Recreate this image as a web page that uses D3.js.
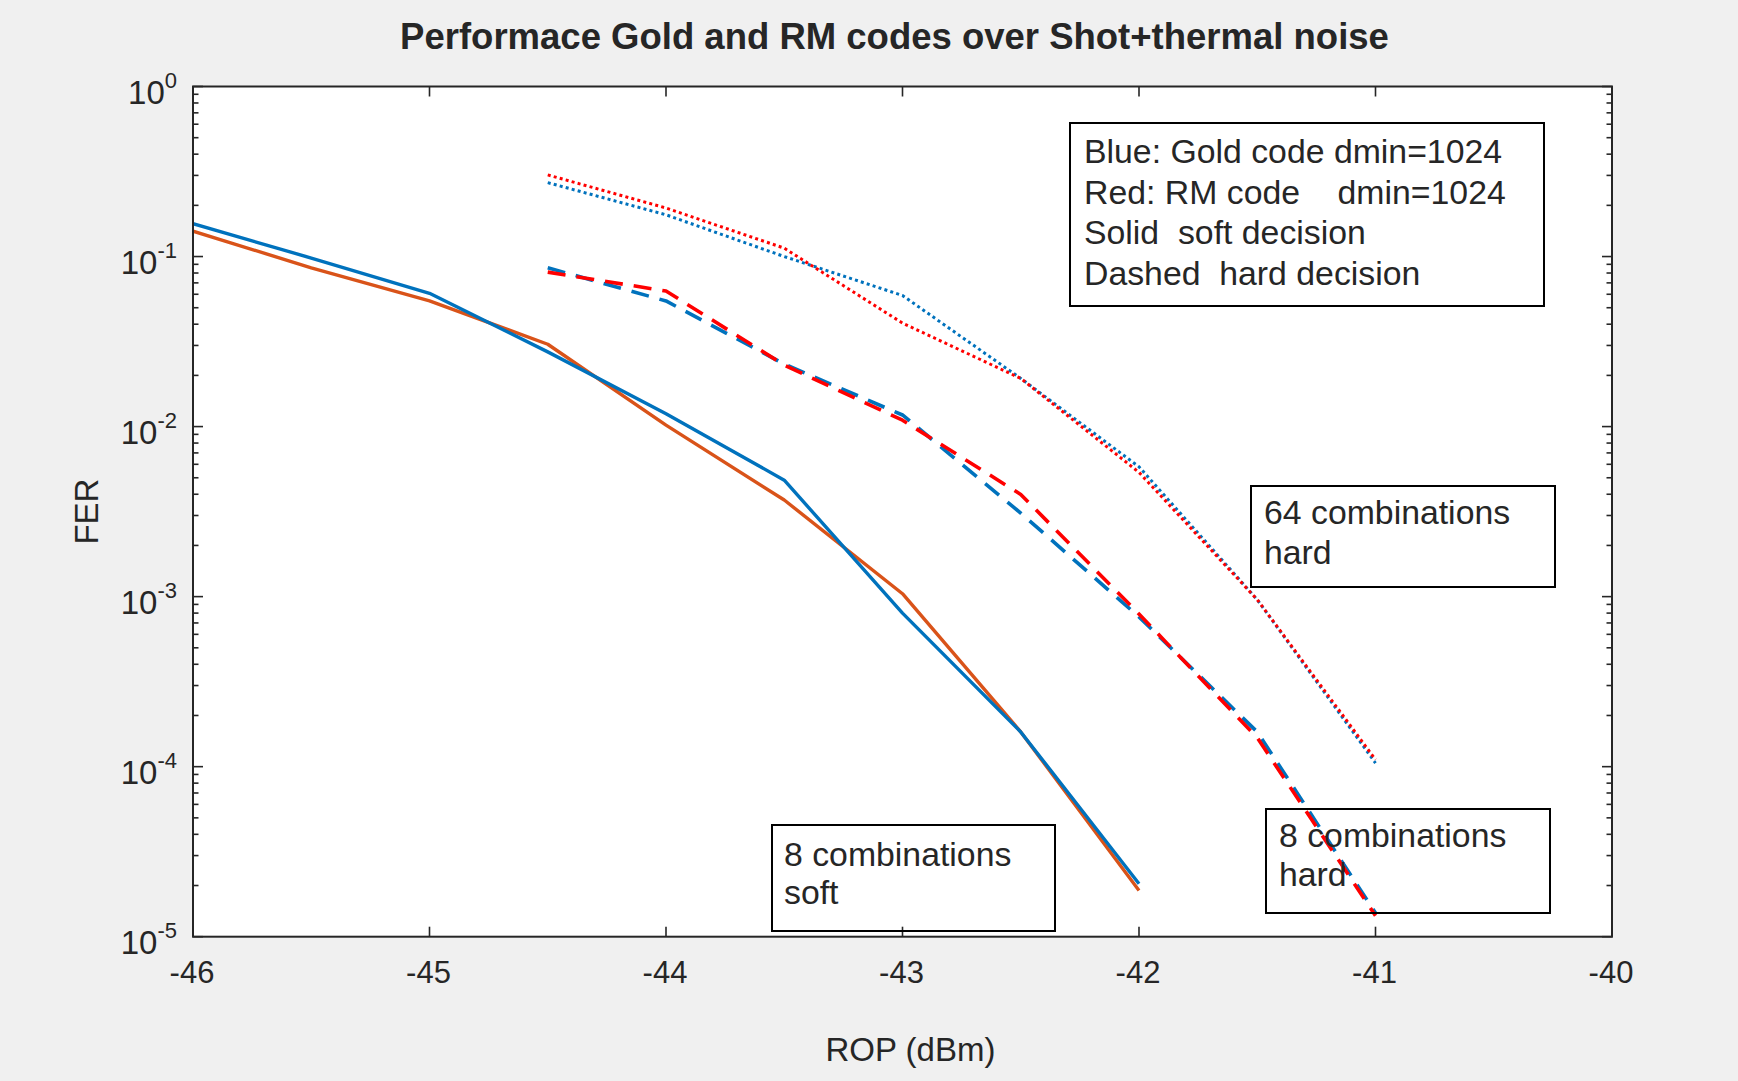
<!DOCTYPE html>
<html>
<head>
<meta charset="utf-8">
<script src="https://cdn.jsdelivr.net/npm/d3@7"></script>
<style>
  html, body { margin: 0; padding: 0; background: #F0F0F0; }
  svg { display: block; }
  text { font-family: "Liberation Sans", Arial, Helvetica, sans-serif; fill: #262626; }
</style>
</head>
<body>
<svg id="chart" width="1738" height="1081"></svg>
<script>
// ---------- data ----------
const titleText = "Performace Gold and RM codes over Shot+thermal noise";
const xLabel = "ROP (dBm)";
const yLabel = "FER";
const xTicks = [-46, -45, -44, -43, -42, -41, -40];
const yTickExps = [0, -1, -2, -3, -4, -5];

const ropSoft = [-46, -45.5, -45, -44.5, -44, -43.5, -43, -42.5, -42];
const goldSoft8 = [0.156, 0.098, 0.0608, 0.0275, 0.0119, 0.00484, 0.00080, 0.000160, 0.0000205];
const rmSoft8 = [0.141, 0.0859, 0.0548, 0.0305, 0.0102, 0.0037, 0.00104, 0.000160, 0.0000187];

const ropHard = [-44.5, -44, -43.5, -43, -42.5, -42, -41.5, -41];
const goldHard8 = [0.0859, 0.0548, 0.0233, 0.0117, 0.0031, 0.00076, 0.000160, 0.0000138];
const rmHard8 = [0.081, 0.0627, 0.023, 0.0109, 0.00399, 0.00079, 0.000148, 0.0000133];
const goldHard64 = [0.272, 0.176, 0.100, 0.059, 0.0192, 0.0058, 0.00096, 0.000105];
const rmHard64 = [0.302, 0.193, 0.112, 0.0406, 0.0192, 0.00538, 0.00096, 0.000110];

const legendLines = ["Blue: Gold code dmin=1024", "Red: RM code    dmin=1024", "Solid  soft decision", "Dashed  hard decision"];
const note64 = ["64 combinations", "hard"];
const note8soft = ["8 combinations", "soft"];
const note8hard = ["8 combinations", "hard"];

// ---------- layout ----------
const W = 1738, H = 1081;
const plot = { left: 193, top: 86.5, right: 1612, bottom: 936.7 };

const svg = d3.select("#chart");
svg.append("rect").attr("width", W).attr("height", H).attr("fill", "#F0F0F0");

const x = d3.scaleLinear().domain([-46, -40]).range([plot.left, plot.right]);
const y = d3.scaleLog().domain([1e-5, 1]).range([plot.bottom, plot.top]);

svg.append("rect")
  .attr("x", plot.left).attr("y", plot.top)
  .attr("width", plot.right - plot.left).attr("height", plot.bottom - plot.top)
  .attr("fill", "#FFFFFF");

const axisColor = "#262626";

// ---------- series ----------
const clipId = "plotclip";
svg.append("clipPath").attr("id", clipId).append("rect")
  .attr("x", plot.left).attr("y", plot.top)
  .attr("width", plot.right - plot.left).attr("height", plot.bottom - plot.top);

const g = svg.append("g").attr("clip-path", `url(#${clipId})`);
const line = d3.line().x(d => x(d[0])).y(d => y(d[1]));

const series = [
  { xs: ropHard, ys: goldHard64, color: "#0072BD", dash: "3,3.2", w: 3 },
  { xs: ropHard, ys: rmHard64, color: "#FF0000", dash: "3,3.2", w: 3 },
  { xs: ropHard, ys: goldHard8, color: "#0072BD", dash: "18,11", w: 3.6 },
  { xs: ropHard, ys: rmHard8, color: "#FF0000", dash: "18,11", w: 3.6 },
  { xs: ropSoft, ys: rmSoft8, color: "#D95319", dash: null, w: 3.4 },
  { xs: ropSoft, ys: goldSoft8, color: "#0072BD", dash: null, w: 3.4 }
];

series.forEach(s => {
  g.append("path")
    .datum(s.xs.map((v, i) => [v, s.ys[i]]))
    .attr("d", line)
    .attr("fill", "none")
    .attr("stroke", s.color)
    .attr("stroke-width", s.w)
    .attr("stroke-linejoin", "round")
    .attr("stroke-dasharray", s.dash);
});

// ---------- axes (box with inward ticks) ----------
const ax = svg.append("g").attr("stroke", axisColor).attr("fill", "none");
ax.append("rect")
  .attr("x", plot.left).attr("y", plot.top)
  .attr("width", plot.right - plot.left).attr("height", plot.bottom - plot.top)
  .attr("stroke-width", 2);

const majorLen = 10, minorLen = 5.5;
xTicks.forEach(t => {
  const px = x(t);
  ax.append("line").attr("x1", px).attr("x2", px).attr("y1", plot.bottom).attr("y2", plot.bottom - majorLen).attr("stroke-width", 1.6);
  ax.append("line").attr("x1", px).attr("x2", px).attr("y1", plot.top).attr("y2", plot.top + majorLen).attr("stroke-width", 1.6);
});
// log ticks
for (let e = -5; e <= 0; e++) {
  const base = Math.pow(10, e);
  const py = y(base);
  ax.append("line").attr("x1", plot.left).attr("x2", plot.left + majorLen).attr("y1", py).attr("y2", py).attr("stroke-width", 1.6);
  ax.append("line").attr("x1", plot.right).attr("x2", plot.right - majorLen).attr("y1", py).attr("y2", py).attr("stroke-width", 1.6);
  if (e < 0) {
    for (let m = 2; m <= 9; m++) {
      const pm = y(base * m);
      ax.append("line").attr("x1", plot.left).attr("x2", plot.left + minorLen).attr("y1", pm).attr("y2", pm).attr("stroke-width", 1.6);
      ax.append("line").attr("x1", plot.right).attr("x2", plot.right - minorLen).attr("y1", pm).attr("y2", pm).attr("stroke-width", 1.6);
    }
  }
}

// tick labels
xTicks.forEach(t => {
  svg.append("text")
    .attr("x", x(t) - 1).attr("y", 983)
    .attr("text-anchor", "middle")
    .attr("font-size", 31)
    .text(String(t));
});
yTickExps.forEach(e => {
  const py = y(Math.pow(10, e));
  const t = svg.append("text")
    .attr("x", 177).attr("y", py + 17)
    .attr("text-anchor", "end")
    .attr("font-size", 33);
  t.append("tspan").text("10");
  t.append("tspan").attr("font-size", 22).attr("dy", -16).text(String(e));
});

// axis labels
svg.append("text")
  .attr("x", (plot.left + plot.right) / 2 + 8).attr("y", 1061)
  .attr("text-anchor", "middle").attr("font-size", 33)
  .text(xLabel);
svg.append("text")
  .attr("transform", `translate(98,${(plot.top + plot.bottom) / 2}) rotate(-90)`)
  .attr("text-anchor", "middle").attr("font-size", 33)
  .text(yLabel);

// title
svg.append("text")
  .attr("x", (plot.left + plot.right) / 2 - 8).attr("y", 49)
  .attr("text-anchor", "middle").attr("font-size", 36.5).attr("font-weight", "bold")
  .attr("fill", "#000")
  .text(titleText);

// ---------- annotation boxes ----------
function textBox(x0, y0, x1, y1, lines, tx, ty0, lh) {
  svg.append("rect")
    .attr("x", x0).attr("y", y0).attr("width", x1 - x0).attr("height", y1 - y0)
    .attr("fill", "none").attr("stroke", "#000").attr("stroke-width", 2);
  lines.forEach((l, i) => {
    svg.append("text")
      .attr("x", tx).attr("y", ty0 + i * lh)
      .attr("font-size", 33.8).attr("fill", "#000")
      .attr("xml:space", "preserve")
      .style("white-space", "pre")
      .text(l);
  });
}
textBox(1070, 123, 1544, 306, legendLines, 1084, 163, 40.5);
textBox(1251, 486, 1555, 587, note64, 1264, 524, 40);
textBox(772, 825, 1055, 931, note8soft, 784, 866, 38);
textBox(1266, 809, 1550, 913, note8hard, 1279, 847, 39);
</script>
</body>
</html>
